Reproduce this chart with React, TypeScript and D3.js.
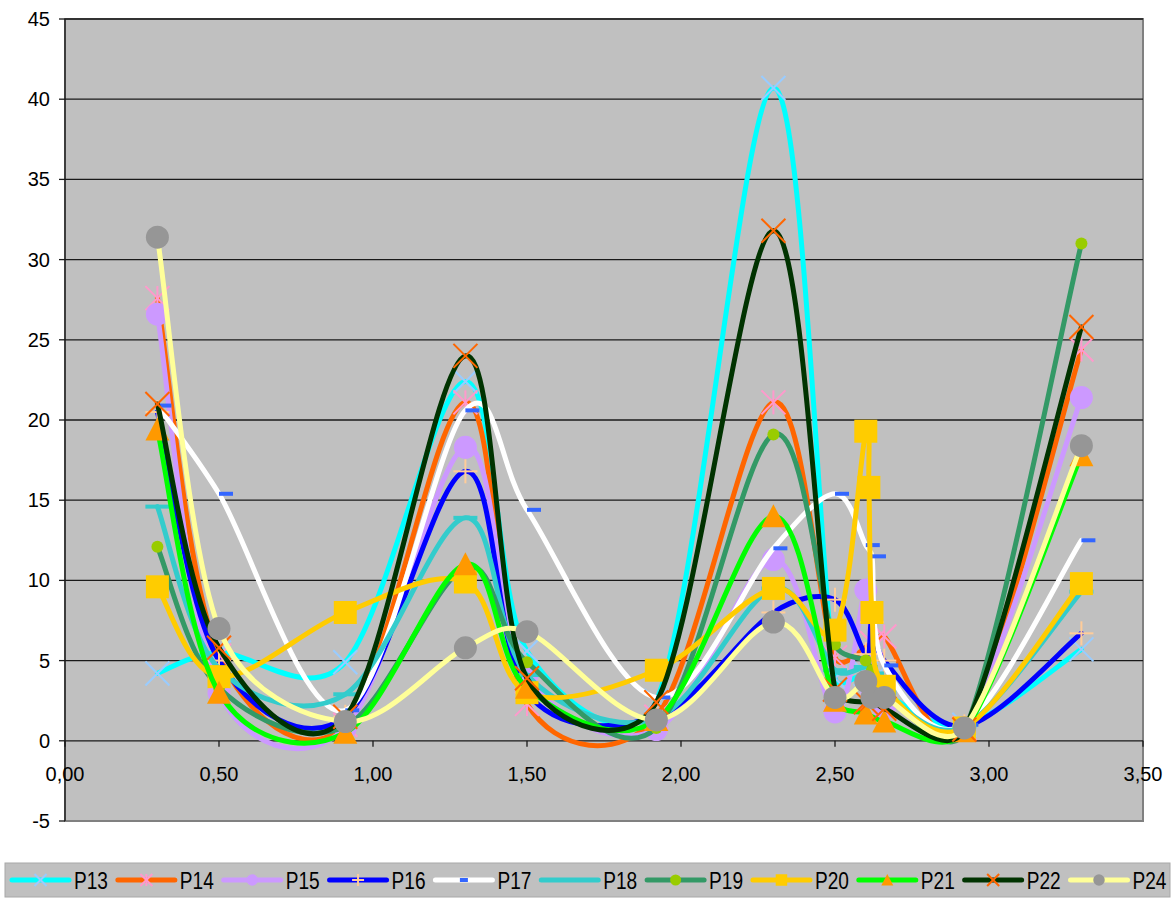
import React from "react";
import * as d3 from "d3";

const X = [0.3, 0.5, 0.91, 1.3, 1.5, 1.92, 2.3, 2.5, 2.6, 2.61, 2.62, 2.66, 2.92, 3.3];

const P13 = [4.2, 5.5, 4.9, 22.4, 5.6, 2.5, 40.7, 3.9, 4.2, null, 3.8, 3.0, 1.0, 5.7];
const P14 = [27.6, 5.3, 1.0, 21.1, 2.3, 1.5, 21.1, 5.2, null, null, 6.1, 6.5, 0.8, 24.4];
const P15 = [26.6, 3.0, 0.8, 18.3, 4.1, 0.7, 11.3, 1.8, 9.4, null, 3.0, 2.0, 0.8, 21.4];
const P16 = [20.5, 5.0, 1.5, 16.8, 3.0, 1.5, 8.0, 8.8, 5.4, null, 7.4, 5.0, 0.9, 6.7];
const P17 = [20.9, 15.4, 1.9, 20.6, 14.4, 2.7, 12.0, 15.4, 12.2, null, 11.5, 4.7, 1.0, 12.5];
const P18 = [14.6, 4.5, 2.9, 13.9, 4.1, 1.4, 9.5, 4.4, 4.6, null, 4.2, 3.0, 0.9, 9.3];
const P19 = [12.1, 3.3, 0.9, 10.8, 4.9, 0.8, 19.1, 6.0, 5.0, null, 4.4, 3.0, 0.6, 31.0];
const P20 = [9.6, 4.0, 8.0, 9.9, 3.0, 4.4, 9.5, 6.9, 19.3, 15.8, 8.0, 3.4, 0.8, 9.8];
const P21 = [19.4, 3.0, 0.5, 11.0, 3.3, 1.3, 14.0, 2.5, 1.7, null, null, 1.2, 0.6, 17.8];
const P22 = [21.0, 5.8, 1.5, 24.0, 3.9, 2.4, 31.8, 3.2, 2.4, null, 2.6, 2.0, 0.7, 25.8];
const P24 = [31.4, 7.0, 1.2, 5.8, 6.8, 1.3, 7.4, 2.7, 3.7, null, 2.7, 2.7, 0.8, 18.4];

const SERIES_NAMES = ["P13", "P14", "P15", "P16", "P17", "P18", "P19", "P20", "P21", "P22", "P24"];
const SERIES_VALUES = [P13, P14, P15, P16, P17, P18, P19, P20, P21, P22, P24];

const Y_TICKS = [-5, 0, 5, 10, 15, 20, 25, 30, 35, 40, 45];
const X_TICKS = [0, 0.5, 1, 1.5, 2, 2.5, 3, 3.5];

const STYLES = [
  { line: "#00FFFF", marker: "x", mc: "#99CCFF" },
  { line: "#FF6600", marker: "star", mc: "#FF99CC" },
  { line: "#CC99FF", marker: "circle", mc: "#CC99FF" },
  { line: "#0000FF", marker: "plus", mc: "#FFCC99" },
  { line: "#FFFFFF", marker: "dash", mc: "#3366FF" },
  { line: "#33CCCC", marker: "longdash", mc: "#33CCCC" },
  { line: "#339966", marker: "smallcircle", mc: "#99CC00" },
  { line: "#FFCC00", marker: "square", mc: "#FFCC00" },
  { line: "#00FF00", marker: "triangle", mc: "#FF9900" },
  { line: "#003300", marker: "x", mc: "#FF6600" },
  { line: "#FFFF99", marker: "circle", mc: "#969696" },
];

// Smoothed curve in the style of spreadsheet "smoothed lines":
// Catmull-Rom tangents (1/6 of neighbour chord) with the control arm clamped relative to the segment.
function excelCurve(context: any) {
  let pts: [number, number][] = [];
  const K = 0.44;
  return {
    areaStart() {},
    areaEnd() {},
    lineStart() {
      pts = [];
    },
    point(x: number, y: number) {
      pts.push([x, y]);
    },
    lineEnd() {
      const n = pts.length;
      if (!n) return;
      context.moveTo(pts[0][0], pts[0][1]);
      if (n === 1) return;
      const tan = (i: number) => {
        const a = pts[Math.max(0, i - 1)];
        const b = pts[Math.min(n - 1, i + 1)];
        return [(b[0] - a[0]) / 6, (b[1] - a[1]) / 6];
      };
      for (let i = 0; i < n - 1; i++) {
        const p1 = pts[i], p2 = pts[i + 1];
        const chord = Math.hypot(p2[0] - p1[0], p2[1] - p1[1]);
        let t1 = tan(i), t2 = tan(i + 1);
        const l1 = Math.hypot(t1[0], t1[1]);
        const l2 = Math.hypot(t2[0], t2[1]);
        if (l1 > K * chord && l1 > 0) t1 = [(t1[0] * K * chord) / l1, (t1[1] * K * chord) / l1];
        if (l2 > K * chord && l2 > 0) t2 = [(t2[0] * K * chord) / l2, (t2[1] * K * chord) / l2];
        context.bezierCurveTo(p1[0] + t1[0], p1[1] + t1[1], p2[0] - t2[0], p2[1] - t2[1], p2[0], p2[1]);
      }
    },
  };
}

function Marker({ type, color, x, y, k = 1 }: { type: string; color: string; x: number; y: number; k?: number }) {
  const s = 12 * k;
  switch (type) {
    case "x":
      return (
        <g stroke={color} strokeWidth={2}>
          <line x1={x - s} y1={y - s} x2={x + s} y2={y + s} />
          <line x1={x - s} y1={y + s} x2={x + s} y2={y - s} />
        </g>
      );
    case "star":
      return (
        <g stroke={color} strokeWidth={2}>
          <line x1={x - s} y1={y - s} x2={x + s} y2={y + s} />
          <line x1={x - s} y1={y + s} x2={x + s} y2={y - s} />
          <line x1={x} y1={y - s} x2={x} y2={y + s} />
        </g>
      );
    case "plus":
      return (
        <g stroke={color} strokeWidth={2}>
          <line x1={x - s} y1={y} x2={x + s} y2={y} />
          <line x1={x} y1={y - s} x2={x} y2={y + s} />
        </g>
      );
    case "circle":
      return <circle cx={x} cy={y} r={11.5 * k} fill={color} />;
    case "smallcircle":
      return <circle cx={x} cy={y} r={k < 1 ? 5.5 : 6} fill={color} />;
    case "square":
      return <rect x={x - 11.5 * k} y={y - 11.5 * k} width={23 * k} height={23 * k} fill={color} />;
    case "triangle":
      return <path d={`M${x},${y - 12 * k}L${x + 12 * k},${y + 11 * k}L${x - 12 * k},${y + 11 * k}Z`} fill={color} />;
    case "dash":
      return k < 1 ? (
        <rect x={x - 4} y={y - 2} width={8} height={4} fill={color} />
      ) : (
        <rect x={x} y={y - 2} width={14} height={4} fill={color} />
      );
    case "longdash":
      return <rect x={x - 12 * k} y={y - 2} width={24 * k} height={4} fill={color} />;
    default:
      return null;
  }
}

export default function App() {
  const left = 65, right = 1143, top = 19, bottom = 821;
  const x = d3.scaleLinear().domain([0, 3.5]).range([left, right]);
  const y = d3.scaleLinear().domain([-5, 45]).range([bottom, top]);
  const line = d3
    .line<[number, number]>()
    .x((d) => x(d[0]))
    .y((d) => y(d[1]))
    .curve(excelCurve as any);

  const font = "'Liberation Sans', Arial, sans-serif";
  const legY = 880;
  const itemW = 105.85;

  return (
    <svg width={1173} height={899} style={{ position: "absolute", left: 0, top: 0 }} fontFamily={font}>
      <rect x={0} y={0} width={1173} height={899} fill="#FFFFFF" />
      <rect x={left} y={top} width={right - left} height={bottom - top} fill="#C0C0C0" stroke="#808080" strokeWidth={2} />
      {Y_TICKS.filter((t) => t !== 0 && t !== -5).map((t) => (
        <line key={t} x1={left} x2={right} y1={y(t)} y2={y(t)} stroke="#1a1a1a" strokeWidth={1.3} />
      ))}
      <line x1={left} x2={left} y1={top} y2={bottom} stroke="#1a1a1a" strokeWidth={1.3} />
      {Y_TICKS.map((t) => (
        <g key={t}>
          <line x1={left - 6} x2={left} y1={y(t)} y2={y(t)} stroke="#1a1a1a" strokeWidth={1.3} />
          <text x={50} y={y(t) + 7} fontSize={20} textAnchor="end" fill="#000">
            {t}
          </text>
        </g>
      ))}
      <line x1={left} x2={right} y1={y(0)} y2={y(0)} stroke="#1a1a1a" strokeWidth={1.3} />
      {X_TICKS.map((t) => (
        <g key={t}>
          <line x1={x(t)} x2={x(t)} y1={y(0)} y2={y(0) + 6} stroke="#1a1a1a" strokeWidth={1.3} />
          <text x={x(t)} y={y(0) + 40} fontSize={20} textAnchor="middle" fill="#000">
            {t.toFixed(2).replace(".", ",")}
          </text>
        </g>
      ))}
      {SERIES_VALUES.map((vals, i) => {
        const pts = X.map((xv, j) => [xv, vals[j]] as [number, number | null]).filter((p) => p[1] !== null) as [number, number][];
        const st = STYLES[i];
        return (
          <g key={SERIES_NAMES[i]}>
            <path d={line(pts) || ""} fill="none" stroke={st.line} strokeWidth={5} strokeLinejoin="round" strokeLinecap="round" />
            {pts.map((p, k) => (
              <Marker key={k} type={st.marker} color={st.mc} x={x(p[0])} y={y(p[1])} />
            ))}
          </g>
        );
      })}
      <rect x={5} y={863} width={1165} height={34} fill="#C0C0C0" stroke="#A8A8A8" strokeWidth={1} />
      {SERIES_NAMES.map((n, i) => {
        const st = STYLES[i];
        const lx = 12 + i * itemW;
        return (
          <g key={n}>
            <line x1={lx} x2={lx + 57} y1={legY} y2={legY} stroke={st.line} strokeWidth={5} strokeLinecap="round" />
            <Marker type={st.marker} color={st.mc} x={lx + 28.5} y={legY} k={0.5} />
            <text x={lx + 62} y={legY + 8.5} fontSize={23} textLength={34} lengthAdjust="spacingAndGlyphs" fill="#000">
              {n}
            </text>
          </g>
        );
      })}
    </svg>
  );
}
